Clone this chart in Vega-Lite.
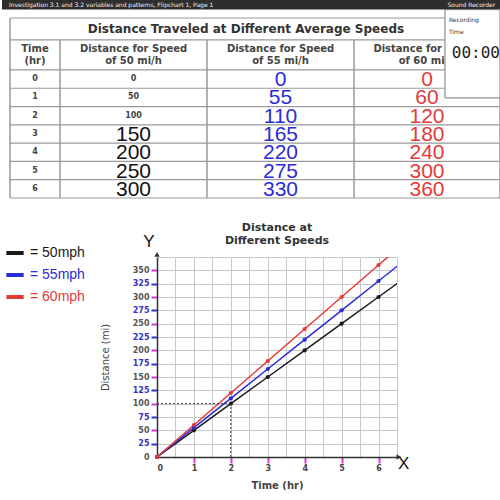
{
  "$schema": "https://vega.github.io/schema/vega-lite/v6.json",
  "padding": {"left": 2, "top": 0, "right": 0, "bottom": 0},
  "background": "white",
  "columns": 1,
  "spacing": 22,
  "resolve": {"scale": {"color": "independent"}, "legend": {"color": "independent"}},
  "config": {"font": "DejaVu Sans"},
  "datasets": {
    "cells": [
      {"col": 0, "row": 0, "v": "0"}, {"col": 0, "row": 1, "v": "1"}, {"col": 0, "row": 2, "v": "2"}, {"col": 0, "row": 3, "v": "3"}, {"col": 0, "row": 4, "v": "4"}, {"col": 0, "row": 5, "v": "5"}, {"col": 0, "row": 6, "v": "6"},
      {"col": 1, "row": 0, "v": "0"}, {"col": 1, "row": 1, "v": "50"}, {"col": 1, "row": 2, "v": "100"}, {"col": 1, "row": 3, "v": "150"}, {"col": 1, "row": 4, "v": "200"}, {"col": 1, "row": 5, "v": "250"}, {"col": 1, "row": 6, "v": "300"},
      {"col": 2, "row": 0, "v": "0"}, {"col": 2, "row": 1, "v": "55"}, {"col": 2, "row": 2, "v": "110"}, {"col": 2, "row": 3, "v": "165"}, {"col": 2, "row": 4, "v": "220"}, {"col": 2, "row": 5, "v": "275"}, {"col": 2, "row": 6, "v": "330"},
      {"col": 3, "row": 0, "v": "0"}, {"col": 3, "row": 1, "v": "60"}, {"col": 3, "row": 2, "v": "120"}, {"col": 3, "row": 3, "v": "180"}, {"col": 3, "row": 4, "v": "240"}, {"col": 3, "row": 5, "v": "300"}, {"col": 3, "row": 6, "v": "360"}
    ],
    "headers": [
      {"col": 0, "h": "Time\n(hr)"},
      {"col": 1, "h": "Distance for Speed\nof 50 mi/h"},
      {"col": 2, "h": "Distance for Speed\nof 55 mi/h"},
      {"col": 3, "h": "Distance for Speed\nof 60 mi/h"}
    ],
    "hlines": [{"r": -3.34}, {"r": -2.14}, {"r": -0.5}, {"r": 0.5}, {"r": 1.5}, {"r": 2.5}, {"r": 3.5}, {"r": 4.5}, {"r": 5.5}, {"r": 6.5}],
    "vlines": [{"c": -0.5, "top": -3.34}, {"c": 0.5, "top": -2.14}, {"c": 1.5, "top": -2.14}, {"c": 2.5, "top": -2.14}, {"c": 3.5, "top": -3.34}],
    "lines": [
      {"speed": "50", "t": 0, "d": 0, "kind": "pt"}, {"speed": "50", "t": 1, "d": 50, "kind": "pt"}, {"speed": "50", "t": 2, "d": 100, "kind": "pt"}, {"speed": "50", "t": 3, "d": 150, "kind": "pt"}, {"speed": "50", "t": 4, "d": 200, "kind": "pt"}, {"speed": "50", "t": 5, "d": 250, "kind": "pt"}, {"speed": "50", "t": 6, "d": 300, "kind": "pt"}, {"speed": "50", "t": 6.6, "d": 330, "kind": "end"},
      {"speed": "55", "t": 0, "d": 0, "kind": "pt"}, {"speed": "55", "t": 1, "d": 55, "kind": "pt"}, {"speed": "55", "t": 2, "d": 110, "kind": "pt"}, {"speed": "55", "t": 3, "d": 165, "kind": "pt"}, {"speed": "55", "t": 4, "d": 220, "kind": "pt"}, {"speed": "55", "t": 5, "d": 275, "kind": "pt"}, {"speed": "55", "t": 6, "d": 330, "kind": "pt"}, {"speed": "55", "t": 6.6, "d": 363, "kind": "end"},
      {"speed": "60", "t": 0, "d": 0, "kind": "pt"}, {"speed": "60", "t": 1, "d": 60, "kind": "pt"}, {"speed": "60", "t": 2, "d": 120, "kind": "pt"}, {"speed": "60", "t": 3, "d": 180, "kind": "pt"}, {"speed": "60", "t": 4, "d": 240, "kind": "pt"}, {"speed": "60", "t": 5, "d": 300, "kind": "pt"}, {"speed": "60", "t": 6, "d": 360, "kind": "pt"}, {"speed": "60", "t": 6.4, "d": 384, "kind": "end"}
    ]
  },
  "concat": [
    {
      "width": 343,
      "height": 180,
      "view": {"stroke": null},
      "layer": [
        {
          "data": {"name": "hlines"},
          "mark": {"type": "rule", "color": "#9a9a9a", "strokeWidth": 1.2},
          "encoding": {
            "x": {"datum": -0.5, "type": "quantitative", "scale": {"domain": [-0.5, 0.5, 1.5, 2.5, 3.5], "range": [-147, -97, 50, 197, 343], "nice": false, "zero": false}, "axis": null},
            "x2": {"datum": 3.5},
            "y": {"field": "r", "type": "quantitative", "scale": {"domain": [-3.34, 6.5], "reverse": true, "nice": false, "zero": false}, "axis": null}
          }
        },
        {
          "data": {"name": "vlines"},
          "mark": {"type": "rule", "color": "#9a9a9a", "strokeWidth": 1.5},
          "encoding": {
            "x": {"field": "c", "type": "quantitative", "axis": null},
            "y": {"field": "top", "type": "quantitative", "axis": null},
            "y2": {"datum": 6.5}
          }
        },
        {
          "data": {"name": "cells"},
          "transform": [{"filter": "datum.col === 0 || (datum.col === 1 && datum.row < 3)"}],
          "mark": {"type": "text", "fontSize": 8, "fontWeight": "bold", "color": "#444"},
          "encoding": {
            "x": {"field": "col", "type": "quantitative", "axis": null},
            "y": {"field": "row", "type": "quantitative", "axis": null},
            "text": {"field": "v"}
          }
        },
        {
          "data": {"name": "cells"},
          "transform": [{"filter": "!(datum.col === 0 || (datum.col === 1 && datum.row < 3))"}],
          "mark": {"type": "text", "fontSize": 21, "font": "Liberation Sans", "dy": 1},
          "encoding": {
            "x": {"field": "col", "type": "quantitative", "axis": null},
            "y": {"field": "row", "type": "quantitative", "axis": null},
            "text": {"field": "v"},
            "color": {"condition": [{"test": "datum.col === 2", "value": "#2b2bd8"}, {"test": "datum.col === 3", "value": "#e43a3a"}], "value": "#111"}
          }
        },
        {
          "data": {"name": "headers"},
          "mark": {"type": "text", "fontSize": 10, "fontWeight": "bold", "color": "#444", "lineBreak": "\n", "lineHeight": 12, "dy": -6},
          "encoding": {
            "x": {"field": "col", "type": "quantitative", "axis": null},
            "y": {"datum": -1.32, "type": "quantitative", "axis": null},
            "text": {"field": "h"}
          }
        },
        {
          "data": {"values": [{"title": "Distance Traveled at Different Average Speeds"}]},
          "mark": {"type": "text", "fontSize": 12, "fontWeight": "bold", "color": "#333"},
          "encoding": {
            "x": {"datum": 1.765, "type": "quantitative", "axis": null},
            "y": {"datum": -2.74, "type": "quantitative", "axis": null},
            "text": {"field": "title"}
          }
        },
        {
          "data": {"values": [{"x0": -0.66, "x1": 3.5, "y0": -4.324, "y1": -3.8}]},
          "mark": {"type": "rect", "color": "#2e2e2e"},
          "encoding": {
            "x": {"field": "x0", "type": "quantitative", "axis": null},
            "x2": {"field": "x1"},
            "y": {"field": "y0", "type": "quantitative", "axis": null},
            "y2": {"field": "y1"}
          }
        },
        {
          "data": {"values": [{"x0": 3.123, "x1": 3.5, "y0": -3.8, "y1": 1.03}]},
          "mark": {"type": "rect", "color": "white", "stroke": "#777", "strokeWidth": 1},
          "encoding": {
            "x": {"field": "x0", "type": "quantitative", "axis": null},
            "x2": {"field": "x1"},
            "y": {"field": "y0", "type": "quantitative", "axis": null},
            "y2": {"field": "y1"}
          }
        },
        {
          "data": {"values": [
            {"x": -0.52, "y": -4.06, "s": "Investigation 3.1 and 3.2 variables and patterns, Flipchart 1, Page 1", "c": "w"},
            {"x": 3.14, "y": -4.06, "s": "Sound Recorder", "c": "w"},
            {"x": 3.15, "y": -3.25, "s": "Recording", "c": "k"},
            {"x": 3.15, "y": -2.55, "s": "Time", "c": "k"}
          ]},
          "mark": {"type": "text", "fontSize": 6, "align": "left", "font": "DejaVu Sans"},
          "encoding": {
            "x": {"field": "x", "type": "quantitative", "axis": null},
            "y": {"field": "y", "type": "quantitative", "axis": null},
            "text": {"field": "s"},
            "color": {"condition": {"test": "datum.c === 'w'", "value": "#eeeeee"}, "value": "#333"}
          }
        },
        {
          "data": {"values": [{"x": 3.17, "y": -1.4, "s": "00:00"}]},
          "mark": {"type": "text", "fontSize": 16, "align": "left", "font": "DejaVu Sans Mono", "color": "#222", "fontWeight": "normal"},
          "encoding": {
            "x": {"field": "x", "type": "quantitative", "axis": null},
            "y": {"field": "y", "type": "quantitative", "axis": null},
            "text": {"field": "s"}
          }
        }
      ]
    },
    {
      "width": 240,
      "height": 200,
      "view": {"stroke": null},
      "title": {"text": ["Distance at", "Different Speeds"], "fontSize": 11, "fontWeight": "bold", "color": "#333", "offset": -13, "anchor": "middle", "lineHeight": 13},
      "encoding": {
        "x": {"field": "t", "type": "quantitative", "scale": {"domain": [0, 6.5], "nice": false},
          "axis": {"values": [0, 0.5, 1, 1.5, 2, 2.5, 3, 3.5, 4, 4.5, 5, 5.5, 6, 6.5], "grid": true, "gridColor": "#c8c8c8", "labelExpr": "datum.value % 1 === 0 ? format(datum.value, 'd') : ''", "labelFontSize": 8, "labelFontWeight": "bold", "labelColor": "#444", "labelPadding": 1,
            "tickColor": {"condition": {"test": "datum.value % 1 === 0 && datum.value > 0", "value": "#d63ad6"}, "value": "transparent"}, "tickSize": 6, "tickWidth": 2,
            "domainColor": "#333", "domainWidth": 1.5, "title": "Time (hr)", "titleFontSize": 10, "titleColor": "#444", "titlePadding": 8}},
        "y": {"field": "d", "type": "quantitative", "scale": {"domain": [0, 375], "nice": false},
          "axis": {"values": [0, 25, 50, 75, 100, 125, 150, 175, 200, 225, 250, 275, 300, 325, 350, 375], "grid": true, "gridColor": "#c8c8c8", "labelExpr": "datum.value === 375 ? '' : datum.label",
            "labelColor": {"condition": {"test": "datum.value % 50 !== 0", "value": "#3333cc"}, "value": "#555"},
            "labelFontSize": 8, "labelFontWeight": "bold", "labelPadding": 2,
            "tickColor": {"condition": [{"test": "datum.value === 375 || datum.value === 0", "value": "transparent"}, {"test": "datum.value % 50 !== 0", "value": "#3333cc"}], "value": "#d63ad6"}, "tickSize": 6, "tickWidth": 2,
            "domainColor": "#333", "domainWidth": 1.5, "title": "Distance (mi)", "titleFontSize": 10, "titleColor": "#444", "titleFontWeight": "normal", "titlePadding": 22}}
      },
      "layer": [
        {
          "data": {"name": "lines"},
          "mark": {"type": "line", "strokeWidth": 1.5, "clip": true},
          "encoding": {
            "color": {"field": "speed", "type": "nominal", "scale": {"domain": ["50", "55", "60"], "range": ["#1a1a1a", "#2b2bd8", "#e43a3a"]},
              "legend": {"orient": "none", "legendX": -153, "legendY": -15, "title": null, "symbolType": "stroke", "symbolStrokeWidth": 4, "symbolSize": 300, "labelFontSize": 14, "labelFont": "Liberation Sans", "labelExpr": "'= ' + datum.label + 'mph'", "rowPadding": 3,
                "encode": {"labels": {"update": {"fill": {"signal": "datum.value === '50' ? '#1a1a1a' : datum.value === '55' ? '#2b2bd8' : '#e43a3a'"}}}}}}
          }
        },
        {
          "data": {"name": "lines"},
          "transform": [{"filter": "datum.kind === 'pt'"}],
          "mark": {"type": "point", "filled": true, "size": 18, "opacity": 1},
          "encoding": {
            "color": {"field": "speed", "type": "nominal", "legend": null}
          }
        },
        {
          "data": {"values": [{"t": 0, "t2": 2, "d": 100, "d2": 100}, {"t": 2, "t2": 2, "d": 0, "d2": 100}]},
          "mark": {"type": "rule", "strokeDash": [2, 2], "color": "#333", "strokeWidth": 1},
          "encoding": {
            "x2": {"field": "t2"},
            "y2": {"field": "d2"}
          }
        },
        {
          "data": {"values": [{"t": 0, "d": 380}]},
          "mark": {"type": "point", "shape": "triangle-up", "filled": true, "size": 30, "color": "#333", "opacity": 1},
          "encoding": {}
        },
        {
          "data": {"values": [{"t": 6.55, "d": 0}]},
          "mark": {"type": "point", "shape": "triangle-right", "filled": true, "size": 30, "color": "#333", "opacity": 1},
          "encoding": {}
        },
        {
          "data": {"values": [{"t": -0.22, "d": 403, "s": "Y"}, {"t": 6.68, "d": -13, "s": "X"}]},
          "mark": {"type": "text", "fontSize": 17, "font": "Liberation Sans", "color": "#111"},
          "encoding": {
            "text": {"field": "s"}
          }
        }
      ]
    }
  ]
}
